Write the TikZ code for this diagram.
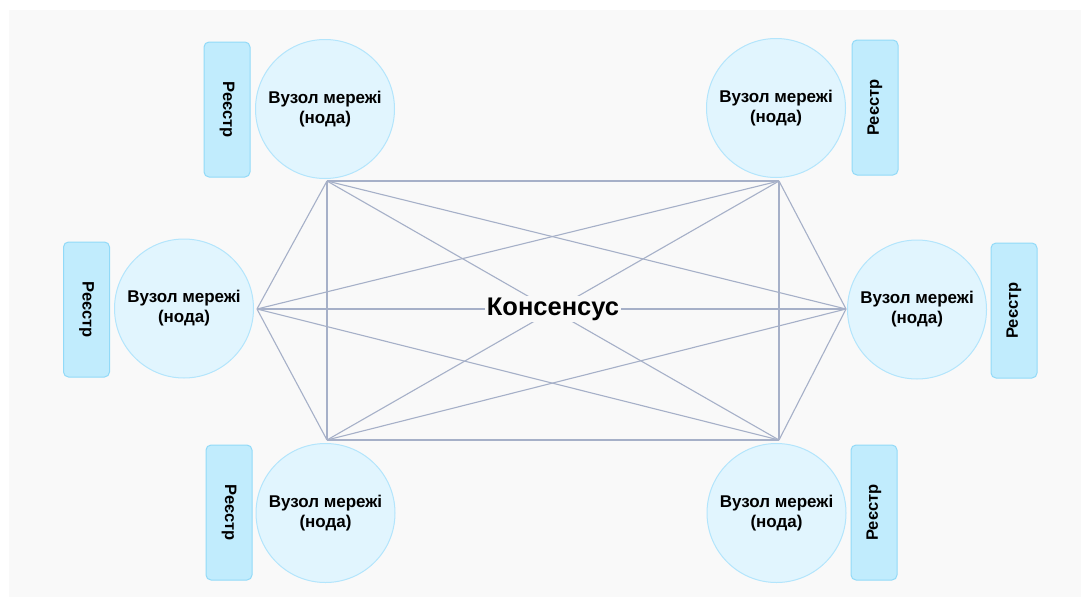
\documentclass[tikz,border=0pt]{standalone}
\usepackage{fontspec}
\setmainfont{Liberation Sans}
\definecolor{bgc}{HTML}{F9F9F9}
\definecolor{circfill}{HTML}{E1F5FE}
\definecolor{circline}{HTML}{B3E5FC}
\definecolor{boxfill}{HTML}{C1ECFD}
\definecolor{boxline}{HTML}{92DAF8}
\definecolor{edgec}{HTML}{A6B0C8}
\begin{document}
\begin{tikzpicture}[x=1pt,y=-1pt,
  nodecirc/.style={circle, draw=circline, line width=1pt, fill=circfill, minimum size=139pt, inner sep=0pt, align=center, font=\fontsize{17}{20}\selectfont\bfseries},
  regbox/.style={rectangle, rounded corners=5pt, draw=boxline, line width=1pt, fill=boxfill, minimum width=135pt, minimum height=46pt, inner sep=0pt, font=\fontsize{16.5}{19}\selectfont\bfseries},
  edge/.style={draw=edgec, line width=1.1pt}]
\useasboundingbox (0,0) rectangle (1081,597);
\fill[white] (0,0) rectangle (1081,597);
\fill[bgc] (9,10) rectangle (1081,597);

% registers
\node[regbox, rotate=-90] (rTL) at (227,109.5) {Реєстр};
\node[regbox, rotate=90] (rTR) at (875,107.5) {Реєстр};
\node[regbox, rotate=-90] (rML) at (86.5,309.5) {Реєстр};
\node[regbox, rotate=90] (rMR) at (1014,310.5) {Реєстр};
\node[regbox, rotate=-90] (rBL) at (229,512.5) {Реєстр};
\node[regbox, rotate=90] (rBR) at (874,512.5) {Реєстр};

% network nodes
\node[nodecirc] (cTL) at (325,109) {Вузол мережі\\(нода)};
\node[nodecirc] (cTR) at (776,108) {Вузол мережі\\(нода)};
\node[nodecirc] (cML) at (184,308.5) {Вузол мережі\\(нода)};
\node[nodecirc] (cMR) at (917,309.5) {Вузол мережі\\(нода)};
\node[nodecirc] (cBL) at (325.5,513) {Вузол мережі\\(нода)};
\node[nodecirc] (cBR) at (776.5,513) {Вузол мережі\\(нода)};

% connection points
\coordinate (pTL) at (327,181);
\coordinate (pTR) at (779,181);
\coordinate (pML) at (257,309);
\coordinate (pMR) at (846,309);
\coordinate (pBL) at (327,440);
\coordinate (pBR) at (779,440);

\foreach \a/\b in {pTL/pTR,pTL/pML,pTL/pMR,pTL/pBL,pTL/pBR,
                   pTR/pML,pTR/pMR,pTR/pBL,pTR/pBR,
                   pML/pMR,pML/pBL,pML/pBR,
                   pMR/pBL,pMR/pBR,
                   pBL/pBR}
  \draw[edge] (\a) -- (\b);

\node[fill=bgc, inner sep=2pt, font=\fontsize{25.5}{30}\selectfont\bfseries] (cons) at (553,309) {Консенсус};
\end{tikzpicture}
\end{document}
